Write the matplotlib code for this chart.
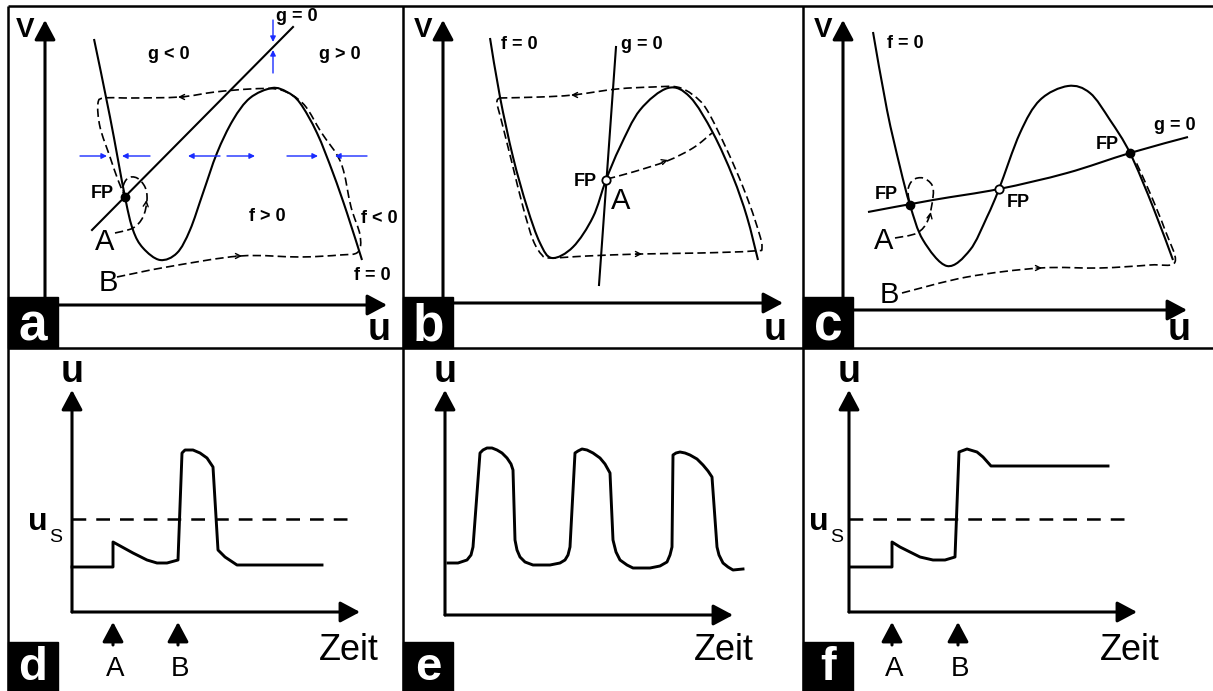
import numpy as np
import matplotlib
matplotlib.use("Agg")
import matplotlib.pyplot as plt
from matplotlib.path import Path
from matplotlib.patches import PathPatch, Rectangle

FONT = "Liberation Sans"

# --------------------------------------------------------------------------
# Curves (pixel coordinates of the full figure)
# --------------------------------------------------------------------------
# panel a: excitable system, FP on the left branch
A_F_U = [94, 110, 125, 133, 143, 160, 177, 190, 203, 217, 233, 250, 272, 287, 300, 317, 333, 347, 362]
A_F_V = [39, 117, 197, 230, 248, 260, 253, 230, 193, 153, 120, 98, 88, 92, 103, 133, 173, 213, 260]
A_G_U = [92, 293]
A_G_V = [230, 27]
A_TRAJ_A_U = [115, 133, 143, 147, 145, 137, 128, 123, 125]
A_TRAJ_A_V = [233, 228, 217, 200, 187, 178, 178, 187, 197]
A_TRAJ_B_U = [117, 167, 240, 300, 340, 358, 360, 351, 341, 321, 306, 292, 276, 250, 215, 180, 133, 105, 98, 100, 110, 118, 125]
A_TRAJ_B_V = [277, 267, 256, 257, 255, 252, 235, 207, 163, 132, 107, 95, 89, 89, 92, 97, 98, 98, 103, 127, 157, 180, 197]
A_FP = (125, 197)

# panel b: oscillator, FP on the middle branch
B_F_U = [490, 500, 513, 527, 540, 552, 573, 593, 606, 620, 640, 668, 690, 713, 733, 747, 758]
B_F_V = [38, 97, 157, 207, 243, 258, 247, 217, 180, 147, 110, 88, 97, 133, 177, 217, 260]
B_G_U = [616, 599]
B_G_V = [47, 285]
B_CYCLE_U = [499, 540, 573, 617, 653, 677, 693, 707, 727, 743, 755, 762, 753, 700, 640, 587, 550, 542, 533, 523, 512, 502, 497, 499]
B_CYCLE_V = [98, 97, 95, 89, 87, 87, 95, 110, 150, 187, 220, 247, 251, 253, 254, 256, 258, 255, 240, 207, 163, 123, 103, 98]
B_TRAJ_U = [607, 633, 667, 693, 712]
B_TRAJ_V = [179, 172, 161, 148, 133]
B_FP = (606, 180)

# panel c: bistable, three FPs
C_F_U = [873, 887, 900, 910, 923, 947, 970, 987, 999, 1020, 1040, 1068, 1090, 1110, 1130, 1153, 1173]
C_F_V = [32, 110, 167, 205, 240, 266, 250, 217, 189, 133, 100, 86, 93, 120, 153, 207, 260]
C_G_U = [868, 933, 999, 1067, 1130, 1188]
C_G_V = [212, 200, 189, 173, 153, 137]
C_TRAJ_A_U = [895, 917, 928, 933, 932, 923, 913, 908, 910]
C_TRAJ_A_V = [238, 233, 220, 197, 185, 178, 180, 190, 205]
C_TRAJ_B_U = [902, 967, 1040, 1100, 1150, 1175, 1165, 1150, 1136]
C_TRAJ_B_V = [293, 277, 268, 268, 265, 262, 230, 193, 162]
C_FP_STABLE = [(910, 205), (1130, 153)]
C_FP_UNSTABLE = (999, 189)

# panel d: time course, excitable
D_T = [72, 113, 113, 133, 147, 157, 167, 178, 182, 185, 193, 200, 207, 213, 218, 225, 237, 322]
D_U = [567, 567, 542, 553, 560, 563, 563, 560, 453, 450, 450, 453, 458, 467, 550, 557, 565, 565]

# panel e: time course, oscillation
E_T = [448, 458, 467, 471, 473, 480, 483, 487, 492, 497, 502, 507, 511, 513, 515, 517, 520, 525, 533, 550,
       560, 565, 568, 570, 575, 578, 582, 587, 593, 600, 605, 610, 613, 616, 620, 627, 633, 650,
       660, 667, 670, 672, 673, 676, 680, 685, 690, 697, 703, 708, 712, 717, 719, 723, 728, 733, 743]
E_U = [563, 563, 560, 555, 547, 453, 450, 448, 448, 450, 453, 458, 464, 470, 540, 550, 557, 562, 565, 565,
       563, 560, 555, 547, 453, 451, 449, 450, 453, 458, 464, 473, 540, 552, 560, 565, 568, 568,
       566, 562, 555, 547, 455, 453, 452, 453, 455, 459, 465, 471, 477, 547, 555, 563, 567, 570, 569]

# panel f: time course, bistable
F_T = [850, 892, 892, 900, 910, 920, 933, 945, 955, 959, 967, 977, 983, 991, 1108]
F_U = [567, 567, 542, 547, 552, 557, 560, 560, 557, 452, 449, 452, 457, 466, 466]

US_LEVEL = 519


def smooth(ax, us, vs, **kw):
    """Draw a smooth curve through the points (Catmull-Rom -> cubic Bezier)."""
    pts = np.column_stack([us, vs]).astype(float)
    verts = [pts[0]]
    codes = [Path.MOVETO]
    n = len(pts)
    for i in range(n - 1):
        p0 = pts[i - 1] if i > 0 else pts[i]
        p1, p2 = pts[i], pts[i + 1]
        p3 = pts[i + 2] if i + 2 < n else pts[i + 1]
        verts += [p1 + (p2 - p0) / 6, p2 - (p3 - p1) / 6, p2]
        codes += [Path.CURVE4] * 3
    ax.add_patch(PathPatch(Path(verts, codes), fill=False, **kw))


def axis_arrow(ax, x0, y0, x1, y1):
    ax.annotate("", xy=(x1, y1), xytext=(x0, y0),
                arrowprops=dict(arrowstyle="-|>,head_length=0.6,head_width=0.32",
                                lw=2.2, color="k", mutation_scale=20,
                                shrinkA=0, shrinkB=0))


def small_head(ax, x, y, dx, dy, color="k", lw=1.0, ms=9, style="->"):
    ax.annotate("", xy=(x + dx, y + dy), xytext=(x, y),
                arrowprops=dict(arrowstyle=style, lw=lw, color=color,
                                mutation_scale=ms, shrinkA=0, shrinkB=0))


def label_box(ax, x, y, letter, h, size=37, pad=8):
    ax.add_patch(Rectangle((x, y), 50, h, color="k", zorder=5))
    ax.text(x + 25, y + h - pad, letter, color="white", fontsize=size, fontweight="bold",
            family=FONT, ha="center", va="baseline", zorder=6)


def txt(ax, x, y, s, size=13, weight="bold", **kw):
    ax.text(x, y, s, fontsize=size, fontweight=weight, family=FONT,
            ha=kw.pop("ha", "center"), va=kw.pop("va", "center"), **kw)


fig = plt.figure(figsize=(12.13, 6.91), dpi=100)
ax = fig.add_axes([0, 0, 1, 1])
ax.set_xlim(0, 1213)
ax.set_ylim(691, 0)
ax.axis("off")

SOLID = dict(color="k", lw=1.5)
DASH = dict(color="k", lw=1.2, linestyle=(0, (5, 2.5)))

# ---- frame ----
frame = dict(color="k", lw=1.8, solid_capstyle="butt")
ax.plot([8, 1213], [6, 6], **frame)
ax.plot([8, 1213], [348, 348], **frame)
for x in (8, 403, 803):
    ax.plot([x, x], [6, 691], **frame)

# ---- phase plane axes (a, b, c) ----
for x0, y_ax, x_tip in [(45, 305, 387), (443, 303, 783), (843, 310, 1187)]:
    axis_arrow(ax, x0, 297, x0, 20)
    axis_arrow(ax, x0 + 8, y_ax, x_tip, y_ax)
    txt(ax, x0 - 20, 30, "V", size=20)
    txt(ax, x_tip - 8, 330, "u", size=27)

# ---- panel a ----
smooth(ax, A_F_U, A_F_V, **SOLID)
ax.plot(A_G_U, A_G_V, **SOLID)
smooth(ax, A_TRAJ_A_U, A_TRAJ_A_V, **DASH)
smooth(ax, A_TRAJ_B_U, A_TRAJ_B_V, **DASH)
ax.plot(*A_FP, "o", color="k", ms=6)
small_head(ax, 146, 204, 0.5, -4)
small_head(ax, 236, 256, 6, 0)
small_head(ax, 184, 97, -6, 0)
blue = "#1a2cff"
for x0, x1 in [(80, 107), (150, 122), (220, 188), (227, 255), (287, 318), (367, 335)]:
    small_head(ax, x0, 156, x1 - x0, 0, color=blue, lw=1.0, ms=8, style="-|>")
small_head(ax, 273, 20, 0, 22, color=blue, lw=1.0, ms=8, style="-|>")
small_head(ax, 273, 73, 0, -23, color=blue, lw=1.0, ms=8, style="-|>")
txt(ax, 297, 16, "g = 0")
txt(ax, 169, 54, "g < 0")
txt(ax, 340, 54, "g > 0")
txt(ax, 267, 216, "f > 0")
txt(ax, 379, 218, "f < 0")
txt(ax, 372, 275, "f = 0")
txt(ax, 102, 193, "FP")
txt(ax, 105, 242, "A", size=21, weight="normal")
txt(ax, 108, 283, "B", size=21, weight="normal")
label_box(ax, 8, 297, "a", 51)

# ---- panel b ----
smooth(ax, B_F_U, B_F_V, **SOLID)
ax.plot(B_G_U, B_G_V, **SOLID)
smooth(ax, B_CYCLE_U, B_CYCLE_V, **DASH)
smooth(ax, B_TRAJ_U, B_TRAJ_V, **DASH)
small_head(ax, 577, 95, -6, 0)
small_head(ax, 636, 254, 6, 0)
small_head(ax, 662, 162, 6, -2)
ax.plot(*B_FP, "o", mfc="white", mec="k", mew=1.3, ms=6)
txt(ax, 585, 181, "FP")
txt(ax, 621, 201, "A", size=21, weight="normal")
txt(ax, 519, 44, "f = 0")
txt(ax, 642, 44, "g = 0")
label_box(ax, 403, 297, "b", 51)

# ---- panel c ----
smooth(ax, C_F_U, C_F_V, **SOLID)
smooth(ax, C_G_U, C_G_V, **SOLID)
smooth(ax, C_TRAJ_A_U, C_TRAJ_A_V, **DASH)
smooth(ax, C_TRAJ_B_U, C_TRAJ_B_V, **DASH)
small_head(ax, 930, 216, 0.8, -4)
small_head(ax, 1036, 268, 6, 0)
for p in C_FP_STABLE:
    ax.plot(*p, "o", color="k", ms=6)
ax.plot(*C_FP_UNSTABLE, "o", mfc="white", mec="k", mew=1.3, ms=6)
txt(ax, 905, 43, "f = 0")
txt(ax, 1175, 125, "g = 0")
txt(ax, 886, 194, "FP")
txt(ax, 1018, 202, "FP")
txt(ax, 1107, 144, "FP")
txt(ax, 884, 241, "A", size=21, weight="normal")
txt(ax, 889, 295, "B", size=21, weight="normal")
label_box(ax, 803, 297, "c", 51)

# ---- time course axes (d, e, f) ----
for x0, y0, x_tip, zeit_x in [(72, 612, 360, 349), (445, 615, 733, 724), (849, 612, 1137, 1130)]:
    axis_arrow(ax, x0, y0, x0, 390)
    axis_arrow(ax, x0, y0, x_tip, y0)
    txt(ax, x0, 372, "u", size=27)
    txt(ax, zeit_x, 650, "Zeit", size=26, weight="normal")

TRACE = dict(color="k", lw=2.1, solid_joinstyle="round")
ax.plot(D_T, D_U, **TRACE)
ax.plot(E_T, E_U, **TRACE)
ax.plot(F_T, F_U, **TRACE)

USDASH = dict(color="k", lw=1.8, linestyle=(0, (5.5, 4)))
ax.plot([72, 353], [US_LEVEL, US_LEVEL], **USDASH)
ax.plot([849, 1130], [US_LEVEL, US_LEVEL], **USDASH)
for ux, sx in [(38, 56), (819, 837)]:
    txt(ax, ux, 522, "u", size=23)
    txt(ax, sx, 537, "S", size=14, weight="normal")

for xa, xb in [(113, 178), (892, 958)]:
    for x, s in [(xa, "A"), (xb, "B")]:
        axis_arrow(ax, x, 645, x, 622)
        txt(ax, x + 2, 669, s, size=20, weight="normal")

label_box(ax, 8, 642, "d", 49, size=34, pad=11)
label_box(ax, 403, 642, "e", 49, size=34, pad=11)
label_box(ax, 803, 642, "f", 49, size=34, pad=11)

fig.savefig("out.png", dpi=100)
